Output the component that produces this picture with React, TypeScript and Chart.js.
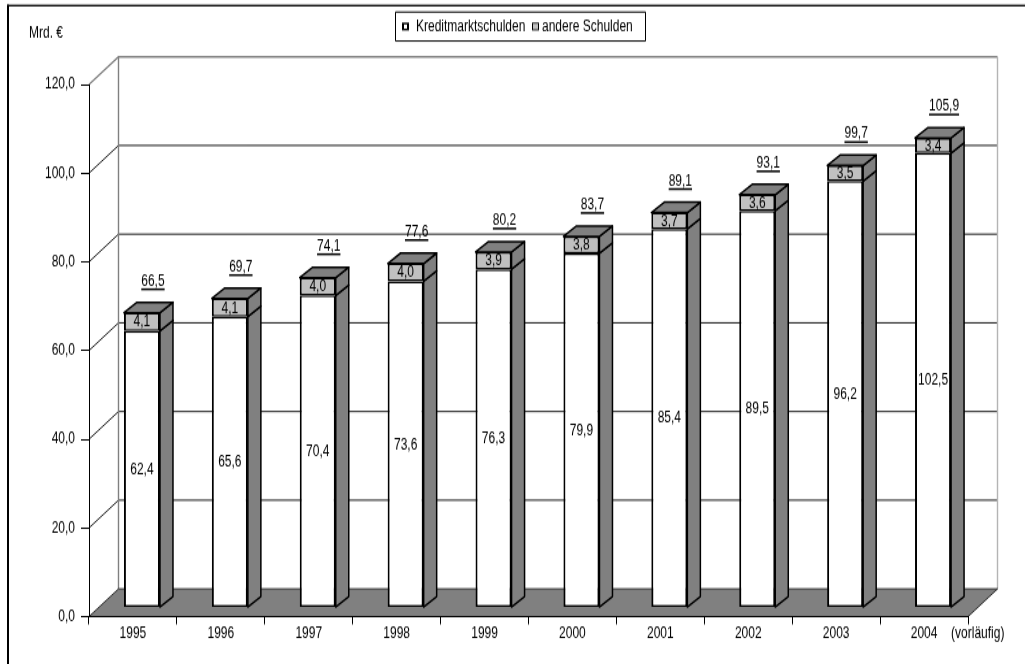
import React, { useEffect, useRef } from 'react';
import { Chart, registerables } from 'chart.js';

Chart.register(...registerables);

// ---- data ----
const years = ['1995', '1996', '1997', '1998', '1999', '2000', '2001', '2002', '2003', '2004'];
const kreditmarktschulden = [62.4, 65.6, 70.4, 73.6, 76.3, 79.9, 85.4, 89.5, 96.2, 102.5];
const andereSchulden = [4.1, 4.1, 4.0, 4.0, 3.9, 3.8, 3.7, 3.6, 3.5, 3.4];
const totals = [66.5, 69.7, 74.1, 77.6, 80.2, 83.7, 89.1, 93.1, 99.7, 105.9];
const seriesNames = ['Kreditmarktschulden', 'andere Schulden'];
const yMin = 0;
const yMax = 120;
const yStep = 20;
const unitLabel = 'Mrd. €';
const lastYearNote = '(vorläufig)';

// ---- geometry ----
const W = 1025;
const OUT_H = 664;
const H = 511; // drawing height, stretched vertically to OUT_H
const SY = OUT_H / H;
const FONT = '"Liberation Sans", Arial, Helvetica, sans-serif';

// depth offsets of the 3D box (canvas units)
const WALL = { dx: 29.5, dy: -27.7 / SY };
const PLANE = { dx: 9, dy: -9 / SY };
const BAR = { dx: 13, dy: -10.4 / SY };

const fmt = (v: number) => v.toFixed(1).replace('.', ',');

function poly(ctx: CanvasRenderingContext2D, pts: number[][], fill: string, stroke: string, lw: number) {
  ctx.beginPath();
  ctx.moveTo(pts[0][0], pts[0][1]);
  for (let i = 1; i < pts.length; i++) ctx.lineTo(pts[i][0], pts[i][1]);
  ctx.closePath();
  ctx.fillStyle = fill;
  ctx.fill();
  ctx.lineJoin = 'round';
  ctx.strokeStyle = stroke;
  ctx.lineWidth = lw;
  ctx.stroke();
}

const depthPlugin = {
  id: 'depth',
  beforeDraw(chart: any) {
    const { ctx, chartArea: a } = chart;
    const y = chart.scales.y;
    ctx.save();
    ctx.fillStyle = '#ffffff';
    ctx.fillRect(0, 0, chart.width, chart.height);

    // outer frame (left and top edges)
    ctx.fillStyle = '#000';
    ctx.fillRect(7, 3.6, chart.width, 1.4);
    ctx.fillRect(7, 3.6, 2, chart.height);

    const bl = a.left + WALL.dx;
    const br = a.right + WALL.dx;
    const yTop = y.getPixelForValue(yMax) + WALL.dy;
    const yZero = y.getPixelForValue(yMin);
    const yZeroBack = yZero + WALL.dy;

    // back wall and left wall grid lines
    for (const t of y.ticks) {
      if (t.value === yMin) continue;
      const yf = y.getPixelForValue(t.value);
      const yb = yf + WALL.dy;
      ctx.beginPath();
      ctx.moveTo(a.left, yf);
      ctx.lineTo(bl, yb);
      ctx.lineTo(br, yb);
      ctx.strokeStyle = t.value === yMax ? '#808080' : '#000';
      ctx.lineWidth = t.value === yMax ? 1.4 : 0.9;
      ctx.stroke();
    }
    // wall edges
    ctx.lineWidth = 1.4;
    ctx.strokeStyle = '#808080';
    ctx.beginPath();
    ctx.moveTo(bl, yTop);
    ctx.lineTo(bl, yZeroBack);
    ctx.stroke();
    ctx.strokeStyle = '#b4b4b4';
    ctx.beginPath();
    ctx.moveTo(br, yTop);
    ctx.lineTo(br, yZeroBack);
    ctx.stroke();

    // floor
    poly(
      ctx,
      [
        [a.left, yZero],
        [a.right, yZero],
        [br, yZeroBack],
        [bl, yZeroBack],
      ],
      '#808080',
      '#2a2a2a',
      1
    );
    ctx.restore();
  },
  beforeDatasetsDraw(chart: any) {
    chart.ctx.save();
    chart.ctx.translate(PLANE.dx, PLANE.dy);
  },
  afterDatasetsDraw(chart: any) {
    const ctx: CanvasRenderingContext2D = chart.ctx;
    ctx.restore();
    ctx.save();
    const metas = chart.getSortedVisibleDatasetMetas();
    const last = metas.length - 1;

    // side and top faces
    for (let i = 0; i < years.length; i++) {
      metas.forEach((m: any, k: number) => {
        const el = m.data[i];
        const p = el.getProps(['x', 'y', 'base', 'width'], true);
        const xl = p.x - p.width / 2 + PLANE.dx;
        const xr = p.x + p.width / 2 + PLANE.dx;
        const yt = Math.min(p.y, p.base) + PLANE.dy;
        const yb = Math.max(p.y, p.base) + PLANE.dy;
        poly(
          ctx,
          [
            [xr, yt],
            [xr + BAR.dx, yt + BAR.dy],
            [xr + BAR.dx, yb + BAR.dy],
            [xr, yb],
          ],
          '#808080',
          '#000',
          1.5
        );
        if (k === last) {
          poly(
            ctx,
            [
              [xl, yt],
              [xl + BAR.dx, yt + BAR.dy],
              [xr + BAR.dx, yt + BAR.dy],
              [xr, yt],
            ],
            '#808080',
            '#000',
            1.5
          );
        }
      });
    }

    // value labels
    ctx.font = `12px ${FONT}`;
    ctx.fillStyle = '#000';
    ctx.textAlign = 'center';
    ctx.textBaseline = 'middle';
    metas.forEach((m: any) => {
      const values = chart.data.datasets[m.index].data as number[];
      m.data.forEach((el: any, i: number) => {
        const p = el.getProps(['x', 'y', 'base'], true);
        ctx.fillText(fmt(values[i]), p.x + PLANE.dx, (p.y + p.base) / 2 + PLANE.dy + 0.5);
      });
    });

    // totals above the columns, underlined
    metas[last].data.forEach((el: any, i: number) => {
      const p = el.getProps(['x', 'y'], true);
      const cx = p.x + PLANE.dx + 11;
      const cy = p.y + PLANE.dy + BAR.dy - 21 / SY;
      const txt = fmt(totals[i]);
      ctx.fillText(txt, cx, cy);
      const w = ctx.measureText(txt).width;
      ctx.fillRect(cx - w / 2, cy + 5.4, w, 1.5);
    });

    // unit label
    ctx.textAlign = 'left';
    ctx.fillText(unitLabel, 29, 33 / SY);

    // note after the last category
    const xs = chart.scales.x;
    const a = chart.chartArea;
    ctx.fillText(lastYearNote, xs.getPixelForValue(years.length - 1) + 27, a.bottom + 6 + 7.2);

    // legend
    const lx = 395;
    const ly = 12 / SY;
    const lh = 29 / SY;
    ctx.strokeStyle = '#000';
    ctx.lineWidth = 1;
    ctx.strokeRect(lx + 0.5, ly, 250, lh);
    const my = ly + lh / 2;
    // first marker: white square with heavy outline
    ctx.fillStyle = '#000';
    ctx.fillRect(402, my - 3, 7, 6);
    ctx.fillStyle = '#fff';
    ctx.fillRect(404, my - 1.6, 3, 3.2);
    ctx.fillStyle = '#000';
    ctx.fillText(seriesNames[0], 416, my);
    // second marker: grey square
    ctx.fillStyle = '#000';
    ctx.fillRect(532, my - 3, 7, 6);
    ctx.fillStyle = '#c0c0c0';
    ctx.fillRect(533, my - 2.2, 5, 4.4);
    ctx.fillStyle = '#000';
    ctx.fillText(seriesNames[1], 542, my);

    ctx.restore();
  },
};

export default function App() {
  const ref = useRef<HTMLCanvasElement>(null);

  useEffect(() => {
    const canvas = ref.current;
    if (!canvas) return;
    Chart.defaults.font.family = FONT;
    Chart.defaults.font.size = 12;
    Chart.defaults.color = '#000';

    const chart = new Chart(canvas, {
      type: 'bar',
      data: {
        labels: years,
        datasets: [
          {
            label: seriesNames[0],
            data: kreditmarktschulden,
            backgroundColor: '#ffffff',
            borderColor: '#000',
            borderWidth: { top: 1.5, bottom: 1.5, left: 2, right: 2 },
            borderSkipped: false,
            categoryPercentage: 0.82,
            barPercentage: 0.5,
            clip: false as any,
          },
          {
            label: seriesNames[1],
            data: andereSchulden,
            backgroundColor: '#c0c0c0',
            borderColor: '#000',
            borderWidth: { top: 1.5, bottom: 1.5, left: 2, right: 2 },
            borderSkipped: false,
            categoryPercentage: 0.82,
            barPercentage: 0.5,
            clip: false as any,
          },
        ],
      },
      options: {
        responsive: false,
        animation: false,
        devicePixelRatio: 1,
        layout: { padding: { left: 0, right: W - 968, top: 65, bottom: 0 } },
        plugins: {
          legend: { display: false },
          tooltip: { enabled: false },
        },
        scales: {
          x: {
            stacked: true,
            offset: true,
            grid: { offset: true, drawOnChartArea: false, drawTicks: true, tickLength: 6, color: '#000' },
            border: { display: true, color: '#000', width: 1 },
            ticks: { color: '#000', padding: 0, maxRotation: 0, autoSkip: false, font: { size: 12 } },
            afterFit: (s: any) => {
              s.height = 36.5;
            },
          },
          y: {
            stacked: true,
            min: yMin,
            max: yMax,
            grid: { drawOnChartArea: false, drawTicks: true, tickLength: 8, color: '#000' },
            border: { display: true, color: '#000', width: 1 },
            ticks: {
              stepSize: yStep,
              color: '#000',
              padding: 6,
              font: { size: 12 },
              callback: (v: any) => fmt(Number(v)),
            },
            afterFit: (s: any) => {
              s.width = 89;
            },
          },
        },
      },
      plugins: [depthPlugin],
    });
    return () => chart.destroy();
  }, []);

  return (
    <div
      style={{
        position: 'absolute',
        left: 0,
        top: 0,
        width: W,
        height: H,
        transform: `scaleY(${SY})`,
        transformOrigin: '0 0',
      }}
    >
      <canvas ref={ref} width={W} height={H} style={{ display: 'block', width: W, height: H }} />
    </div>
  );
}
